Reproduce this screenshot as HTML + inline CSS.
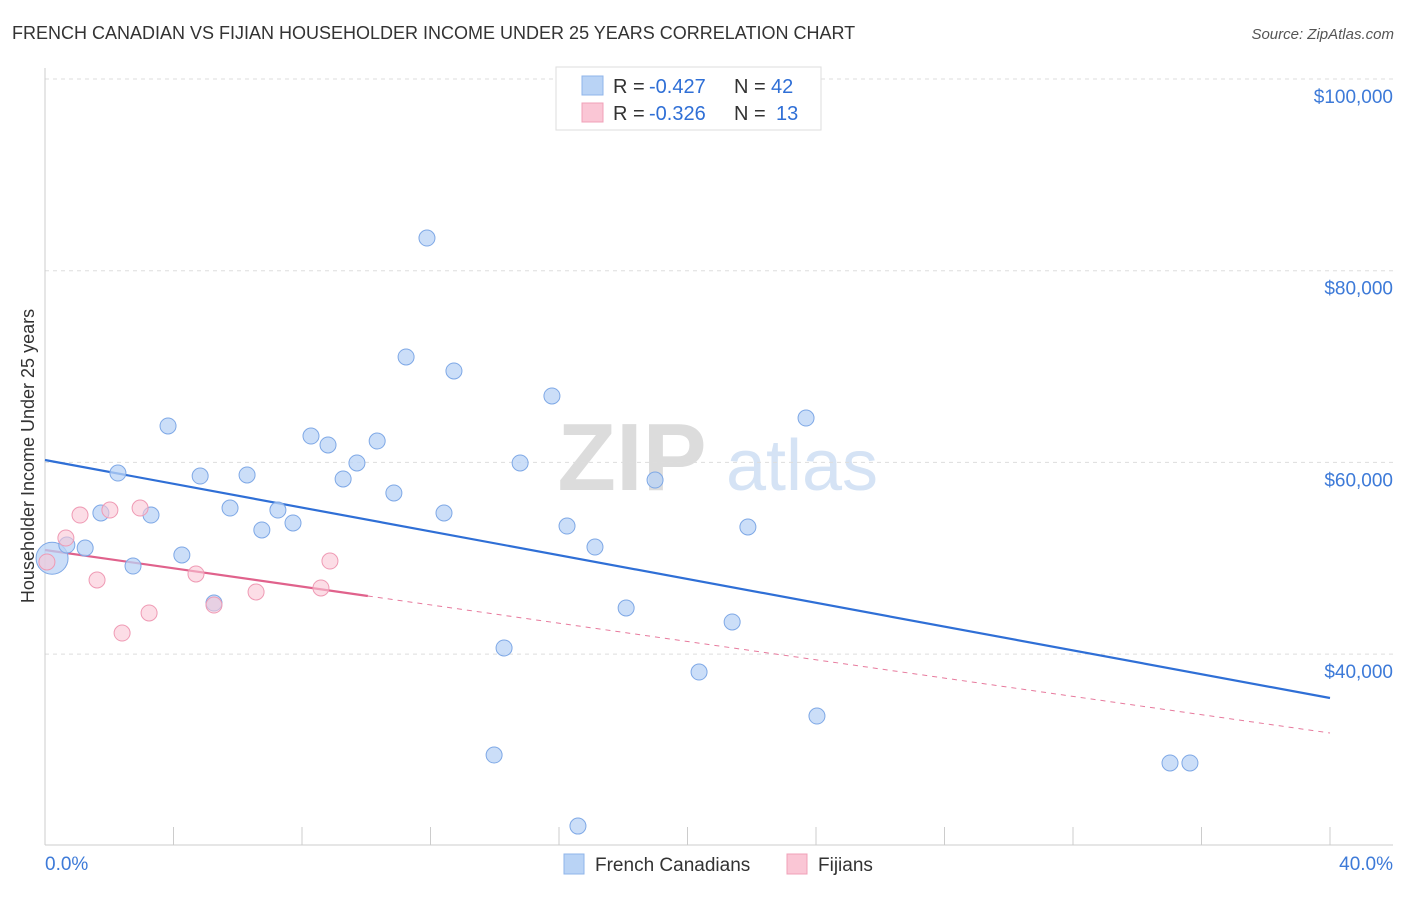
<!DOCTYPE html>
<html><head><meta charset="utf-8"><style>
body{margin:0;background:#fff;font-family:"Liberation Sans",sans-serif;}
svg text{font-family:"Liberation Sans",sans-serif;}
</style></head><body>
<svg id="c" width="1406" height="892" xmlns="http://www.w3.org/2000/svg">
<text x="12" y="39" font-size="18" fill="#333">FRENCH CANADIAN VS FIJIAN HOUSEHOLDER INCOME UNDER 25 YEARS CORRELATION CHART</text>
<text x="1394" y="39" font-size="15" fill="#555" font-style="italic" text-anchor="end">Source: ZipAtlas.com</text>
<g>
<text x="632" y="490" font-size="96" fill="#dcdcdc" font-family="Liberation Serif" text-anchor="middle" font-weight="bold">ZIP</text>
<text x="802" y="490" font-size="72" fill="#d5e3f5" text-anchor="middle">atlas</text>
</g>
<text transform="translate(34,456) rotate(-90)" font-size="18" fill="#333" text-anchor="middle">Householder Income Under 25 years</text>
<g id="grid"></g>
<g id="axes"></g>
<g id="lines"></g>
<g id="pts"></g>
<g>
<rect x="556" y="67" width="265" height="63" fill="#fff" stroke="#ddd"/>
<rect x="582" y="76" width="21" height="19" fill="#b9d3f5" stroke="#8fb5ea"/>
<rect x="582" y="103" width="21" height="19" fill="#fac6d5" stroke="#f0a0b8"/>
<text x="613" y="93" font-size="20" fill="#333">R = </text><text x="649" y="93" font-size="20" fill="#2f6fd6">-0.427</text>
<text x="734" y="93" font-size="20" fill="#333">N = </text><text x="771" y="93" font-size="20" fill="#2f6fd6">42</text>
<text x="613" y="120" font-size="20" fill="#333">R = </text><text x="649" y="120" font-size="20" fill="#2f6fd6">-0.326</text>
<text x="734" y="120" font-size="20" fill="#333">N = </text><text x="776" y="120" font-size="20" fill="#2f6fd6">13</text>
</g>
<g>
<rect x="564" y="854" width="20" height="20" fill="#b9d3f5" stroke="#8fb5ea"/>
<text x="595" y="871" font-size="19" fill="#333">French Canadians</text>
<rect x="787" y="854" width="20" height="20" fill="#fac6d5" stroke="#f0a0b8"/>
<text x="818" y="871" font-size="19" fill="#333">Fijians</text>
</g>
<text x="45" y="870" font-size="19" fill="#3d7ad8">0.0%</text>
<text x="1393" y="870" font-size="19" fill="#3d7ad8" text-anchor="end">40.0%</text>
</svg>
<script>
const yTicks=[100000,80000,60000,40000];
const yTickLabels=["$100,000","$80,000","$60,000","$40,000"];
const xTicks=[0,4,8,12,16,20,24,28,32,36,40];
const blueX=[0.22,0.68,1.25,1.74,2.27,2.74,3.30,3.83,4.26,4.83,5.26,5.76,6.29,6.75,7.25,7.72,8.28,8.81,9.28,9.71,10.34,10.86,11.24,11.89,12.42,12.73,13.98,14.29,14.79,15.78,16.25,16.59,17.12,18.09,18.99,20.36,21.39,21.88,23.69,24.03,35.02,35.64];
const blueY=[50000,51380,51070,54720,58890,49190,54510,63800,50340,58580,45330,55240,58690,52950,55030,53680,62750,61820,58270,59940,62230,56810,71000,83410,54720,69540,29470,40640,59940,66930,53360,22060,51170,44810,58160,38130,43350,53260,64630,33540,28640,28640];
const pinkX=[0.06,0.65,1.09,1.62,2.02,2.40,2.96,3.24,4.70,5.26,6.57,8.59,8.87];
const pinkY=[49610,52110,54510,47730,55030,42200,55240,44290,48360,45120,46480,46900,49710];
const blueTrend=[60250,35420];
const pinkTrend=[50860,31770];
const pinkSolidEnd=10.05;
const NS="http://www.w3.org/2000/svg";
const X=p=>45+p/40*1285;
const Y=v=>79+(100000-v)/20000*191.7;
function mk(parent,tag,attrs){const e=document.createElementNS(NS,tag);for(const k in attrs)e.setAttribute(k,attrs[k]);document.getElementById(parent).appendChild(e);return e;}
yTicks.forEach((v,i)=>{
 const l=mk('grid','line',{x1:45,x2:1393,y1:Y(v),y2:Y(v),stroke:'#ddd','stroke-dasharray':'4,4'});
 
 
 const t=mk('grid','text',{x:1393,y:Y(v)+24,'font-size':19,fill:'#3d7ad8','text-anchor':'end'});
 t.textContent=yTickLabels[i];
 
 
});
const ya=mk('axes','line',{x1:45,x2:45,y1:68,y2:845,stroke:'#ccc'});


const xa=mk('axes','line',{x1:45,x2:1393,y1:845,y2:845,stroke:'#ccc'});


xTicks.forEach(p=>{const t=mk('axes','line',{x1:X(p),x2:X(p),y1:827,y2:845,stroke:'#ccc'});
 
 });
function tv(tr,p){return tr[0]+(tr[1]-tr[0])*p/40;}
const bl=mk('lines','line',{x1:X(0),y1:Y(blueTrend[0]),x2:X(40),y2:Y(blueTrend[1]),stroke:'#2f6fd6','stroke-width':2.2});


const pd=mk('lines','line',{x1:X(pinkSolidEnd),y1:Y(tv(pinkTrend,pinkSolidEnd)),x2:X(40),y2:Y(pinkTrend[1]),stroke:'#e77a9d','stroke-width':1,'stroke-dasharray':'5,5'});


const ps=mk('lines','line',{x1:X(0),y1:Y(pinkTrend[0]),x2:X(pinkSolidEnd),y2:Y(tv(pinkTrend,pinkSolidEnd)),stroke:'#e0628c','stroke-width':2.2});


blueX.forEach((x,i)=>{const c=mk('pts','circle',{cx:X(x),cy:Y(blueY[i]),r:i==0?16:8,fill:'#b9d3f5','fill-opacity':0.75,stroke:'#7ea8e6','stroke-width':1});
 
 });
pinkX.forEach((x,i)=>{const c=mk('pts','circle',{cx:X(x),cy:Y(pinkY[i]),r:8,fill:'#fac6d5','fill-opacity':0.6,stroke:'#ef9ab4','stroke-width':1});
 
 });
</script>
</body></html>
